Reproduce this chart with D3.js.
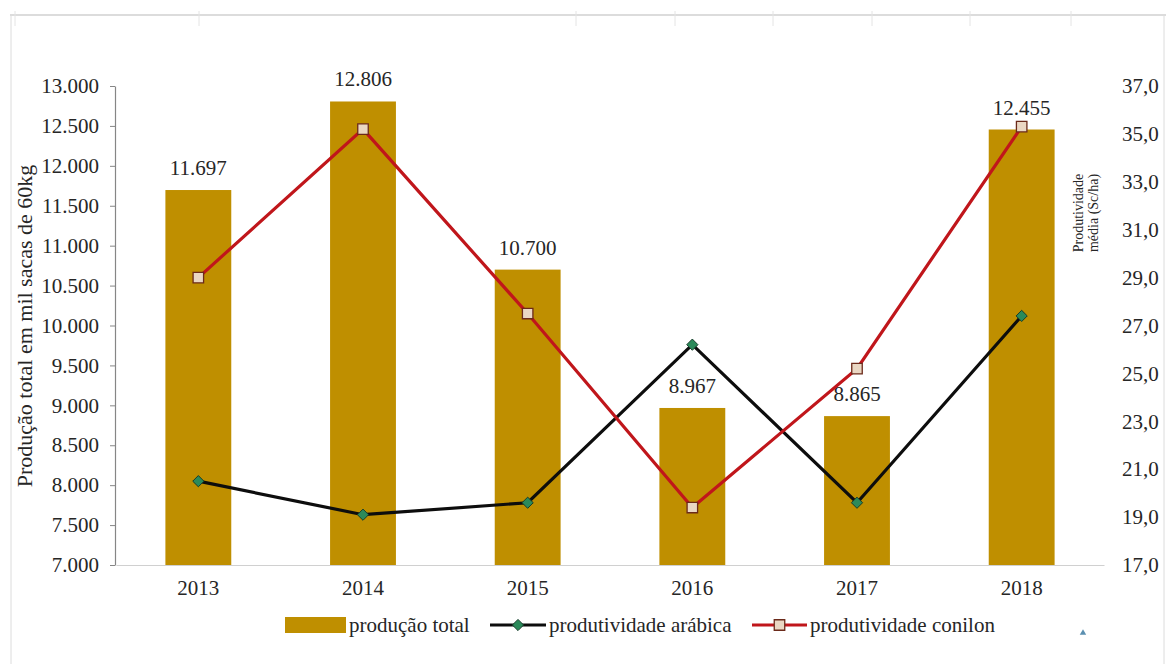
<!DOCTYPE html>
<html>
<head>
<meta charset="utf-8">
<script src="https://cdn.jsdelivr.net/npm/d3@7"></script>
<style>
  html, body { margin: 0; padding: 0; background: #ffffff; }
  svg { display: block; }
  text { font-family: "Liberation Serif", "Times New Roman", serif; }
</style>
</head>
<body>
<svg id="chart" width="1166" height="664"></svg>
<script>
// ---- data ----
const years = ["2013", "2014", "2015", "2016", "2017", "2018"];
const producaoTotal = [11697, 12806, 10700, 8967, 8865, 12455];
const produtividadeArabica = [20.5, 19.1, 19.6, 26.2, 19.6, 27.4];
const produtividadeConilon = [29.0, 35.2, 27.5, 19.4, 25.2, 35.3];
const leftTicks = [7000, 7500, 8000, 8500, 9000, 9500, 10000, 10500, 11000, 11500, 12000, 12500, 13000];
const rightTicks = [17, 19, 21, 23, 25, 27, 29, 31, 33, 35, 37];
const seriesNames = ["produção total", "produtividade arábica", "produtividade conilon"];
const leftTitle = "Produção total em mil sacas de 60kg";
const rightTitleLines = ["Produtividade", "média (Sc/ha)"];

// ---- formatting ----
const ptBR = d3.formatLocale({ decimal: ",", thousands: ".", grouping: [3], currency: ["R$", ""] });
const fmtInt = ptBR.format(",.0f");
const fmtOne = ptBR.format(".1f");
const FONT = "'Liberation Serif', 'Times New Roman', serif";

// ---- layout ----
const svg = d3.select("#chart");
const plotLeft = 116, plotRight = 1104, plotTop = 86, plotBottom = 565;

const x = d3.scaleBand().domain(years).range([plotLeft, plotRight]).paddingInner(0.6).paddingOuter(0.3);
const xc = d3.scalePoint().domain(years).range([plotLeft, plotRight]).padding(0.5);
const yL = d3.scaleLinear().domain([7000, 13000]).range([plotBottom, plotTop]);
const yR = d3.scaleLinear().domain([17, 37]).range([plotBottom, plotTop]);

// frame artifacts (document borders)
const frame = svg.append("g").attr("stroke", "#dcdcdc").attr("fill", "none");
frame.append("line").attr("x1", 10).attr("x2", 1166).attr("y1", 15).attr("y2", 15).attr("stroke-width", 2);
frame.append("line").attr("x1", 11).attr("x2", 11).attr("y1", 15).attr("y2", 664);
frame.append("line").attr("x1", 1164).attr("x2", 1164).attr("y1", 15).attr("y2", 664);
[15, 199, 576, 675, 773, 872, 970, 1071].forEach(px => {
  frame.append("line").attr("x1", px).attr("x2", px).attr("y1", 11).attr("y2", 26).attr("stroke", "#e4e4e4");
});

// bars
svg.append("g").selectAll("rect").data(years).join("rect")
  .attr("x", d => x(d))
  .attr("width", x.bandwidth())
  .attr("y", (d, i) => yL(producaoTotal[i]))
  .attr("height", (d, i) => yL(7000) - yL(producaoTotal[i]))
  .attr("fill", "#bf8f00");

// x axis
const xAxis = svg.append("g").attr("transform", `translate(0,${plotBottom})`)
  .call(d3.axisBottom(x).tickSize(0).tickPadding(15));
xAxis.select(".domain").attr("stroke", "#d0d0d0").attr("stroke-width", 1.2);
xAxis.selectAll("text").attr("font-size", 21).attr("fill", "#262626").attr("font-family", FONT);

// left axis
const lAxis = svg.append("g").attr("transform", `translate(${plotLeft - 1},0)`)
  .call(d3.axisLeft(yL).tickValues(leftTicks).tickFormat(fmtInt).tickSize(5).tickSizeOuter(0).tickPadding(11));
lAxis.select(".domain").attr("stroke", "#868686").attr("stroke-width", 1.2);
lAxis.selectAll(".tick line").attr("stroke", "#868686");
lAxis.selectAll("text").attr("font-size", 21).attr("fill", "#262626").attr("font-family", FONT);

// right axis (labels only)
const rAxis = svg.append("g").attr("transform", `translate(1115,0)`)
  .call(d3.axisRight(yR).tickValues(rightTicks).tickFormat(fmtOne).tickSize(0).tickPadding(7));
rAxis.select(".domain").remove();
rAxis.selectAll("text").attr("font-size", 21).attr("fill", "#262626").attr("font-family", FONT);

// axis titles
svg.append("text")
  .attr("transform", `translate(32,${326}) rotate(-90)`)
  .attr("text-anchor", "middle")
  .attr("font-family", FONT)
  .attr("font-size", 22).attr("fill", "#262626")
  .text(leftTitle);

const rt = svg.append("text")
  .attr("transform", `translate(1083,${213}) rotate(-90)`)
  .attr("text-anchor", "middle")
  .attr("font-family", FONT)
  .attr("font-size", 14).attr("fill", "#262626");
rightTitleLines.forEach((t, i) => {
  rt.append("tspan").attr("x", 0).attr("dy", i === 0 ? 0 : 15).text(t);
});

// bar labels
svg.append("g").selectAll("text").data(years).join("text")
  .attr("x", d => xc(d))
  .attr("y", (d, i) => yL(producaoTotal[i]) - 15)
  .attr("text-anchor", "middle")
  .attr("font-family", FONT)
  .attr("font-size", 21).attr("fill", "#262626")
  .text((d, i) => fmtInt(producaoTotal[i]));

// lines
const lineGen = d3.line().x(d => xc(d.year)).y(d => yR(d.v));
const arab = years.map((y, i) => ({ year: y, v: produtividadeArabica[i] }));
const coni = years.map((y, i) => ({ year: y, v: produtividadeConilon[i] }));

svg.append("path").datum(arab).attr("d", lineGen)
  .attr("fill", "none").attr("stroke", "#0d0d0d").attr("stroke-width", 3.2).attr("stroke-linejoin", "miter");
svg.append("path").datum(coni).attr("d", lineGen)
  .attr("fill", "none").attr("stroke", "#c0161b").attr("stroke-width", 3.2).attr("stroke-linejoin", "miter");

const diamond = d3.symbol().type(d3.symbolDiamond2).size(80);
const square = d3.symbol().type(d3.symbolSquare).size(110);

svg.append("g").selectAll("path").data(arab).join("path")
  .attr("transform", d => `translate(${xc(d.year)},${yR(d.v)})`)
  .attr("d", diamond)
  .attr("fill", "#2b8a5a").attr("stroke", "#173d2a").attr("stroke-width", 1);

svg.append("g").selectAll("path").data(coni).join("path")
  .attr("transform", d => `translate(${xc(d.year)},${yR(d.v)})`)
  .attr("d", square)
  .attr("fill", "#ead7c3").attr("stroke", "#6b2a1a").attr("stroke-width", 1.3);

// legend
const lg = svg.append("g").attr("font-size", 21).attr("fill", "#262626").attr("font-family", FONT);
const ly = 625;
lg.append("rect").attr("x", 285).attr("y", ly - 8).attr("width", 61).attr("height", 16).attr("fill", "#bf8f00");
lg.append("text").attr("x", 349).attr("y", ly).attr("dy", "0.33em").text(seriesNames[0]);

lg.append("line").attr("x1", 490).attr("x2", 546).attr("y1", ly).attr("y2", ly)
  .attr("stroke", "#0d0d0d").attr("stroke-width", 3.2);
lg.append("path").attr("transform", `translate(518,${ly})`).attr("d", diamond)
  .attr("fill", "#2b8a5a").attr("stroke", "#173d2a");
lg.append("text").attr("x", 549).attr("y", ly).attr("dy", "0.33em").text(seriesNames[1]);

lg.append("line").attr("x1", 752).attr("x2", 807).attr("y1", ly).attr("y2", ly)
  .attr("stroke", "#c0161b").attr("stroke-width", 3.2);
lg.append("path").attr("transform", `translate(779.5,${ly})`).attr("d", square)
  .attr("fill", "#ead7c3").attr("stroke", "#6b2a1a").attr("stroke-width", 1.3);
lg.append("text").attr("x", 810).attr("y", ly).attr("dy", "0.33em").text(seriesNames[2]);

// small marker triangle at bottom right
svg.append("path").attr("transform", "translate(1083,633)")
  .attr("d", d3.symbol().type(d3.symbolTriangle).size(18))
  .attr("fill", "#5b8fb0");
</script>
</body>
</html>
